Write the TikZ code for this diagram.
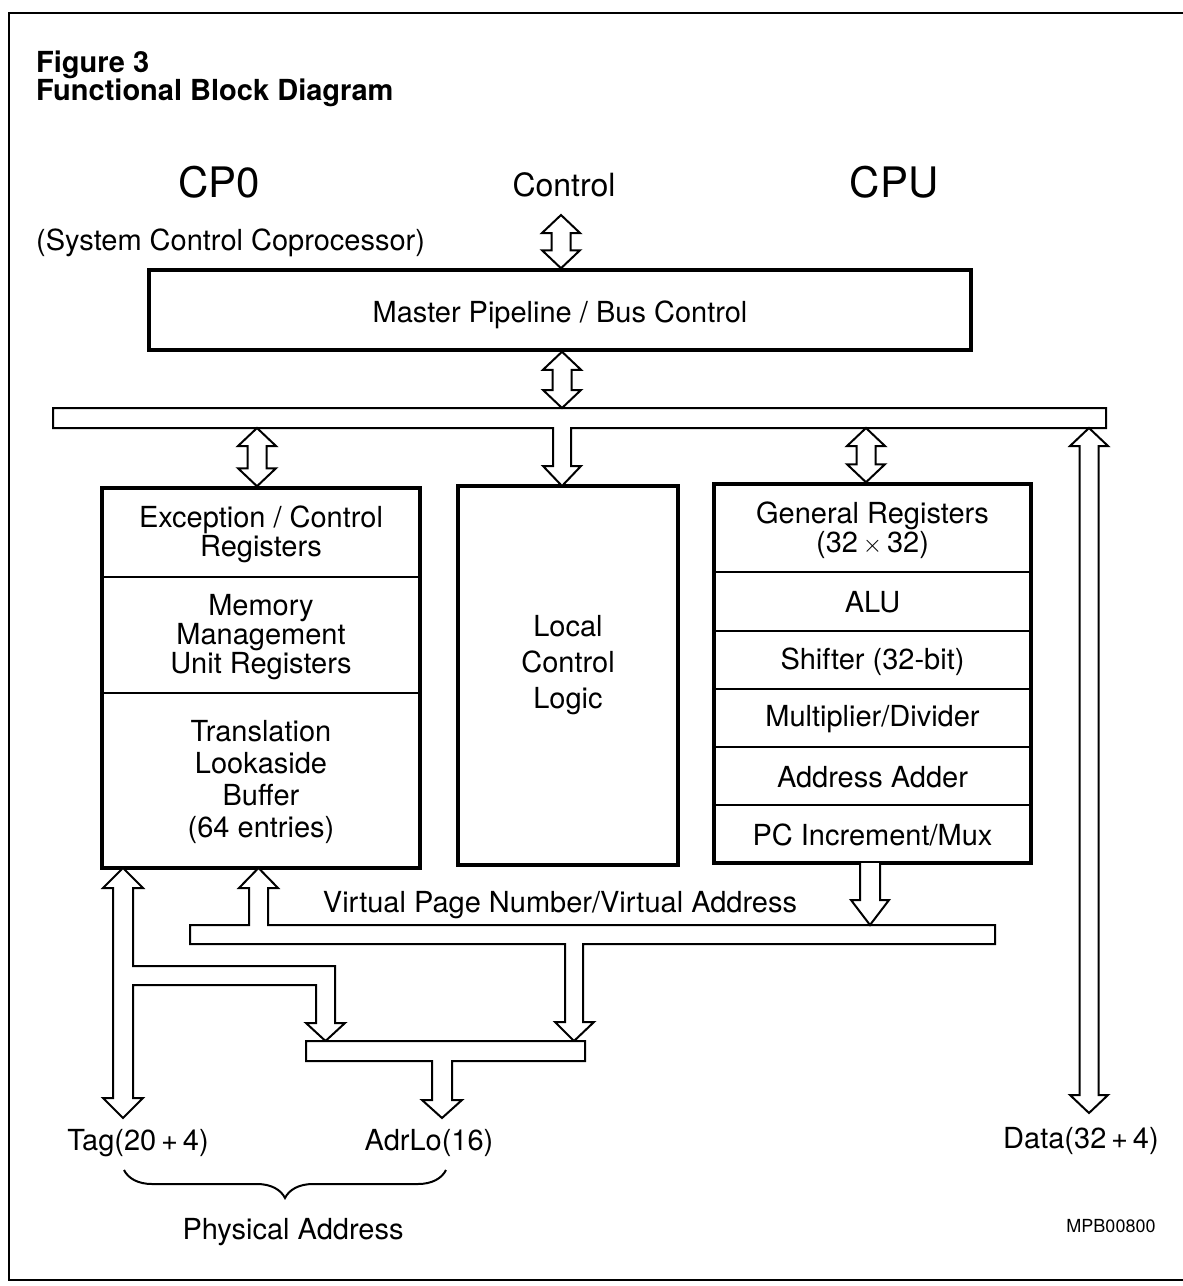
\documentclass[tikz,border=0pt]{standalone}
\usepackage{fontspec}
\setmainfont{TeX Gyre Heros}
\usetikzlibrary{calc,decorations.pathreplacing}
\newcommand\dblarrow[3]{%
  \draw[fat] (#1,0 |- #2) -- ++(19,18) -- ++(-9.5,0) -- ($(#1,0 |- #3)+(9.5,-18)$) -- ++(9.5,0)
    -- (#1,0 |- #3) -- ++(-19,-18) -- ++(9.5,0) -- ($(#1,0 |- #2)+(-9.5,18)$) -- ++(-9.5,0) -- cycle;}
\begin{document}
\begin{tikzpicture}[x=1pt,y=-1pt,
  fat/.style={draw=black, fill=white, line width=2pt, line join=miter},
  bigbox/.style={draw=black, line width=3.5pt, fill=white, inner sep=0pt},
  divider/.style={line width=2pt},
  body/.style={font=\fontsize{29}{29}\selectfont, align=center, inner sep=0pt},
  bold/.style={font=\fontsize{29}{29}\selectfont\bfseries, inner sep=0pt},
  big/.style={font=\fontsize{42}{42}\selectfont, inner sep=0pt},
]
\useasboundingbox (0,0) rectangle (1183,1286);
% frame
\draw[line width=2.2pt] (1183,13) -- (9,13) -- (9,1280) -- (1183,1280);

% titles
\node[bold, anchor=base west] (fig) at (36,72) {Figure 3};
\node[bold, anchor=base west] (title) at (36,100) {Functional Block Diagram};
\node[big, anchor=base] (cp0t) at (219,197) {CP0};
\node[body, anchor=base west] (sysc) at (36,250) {(System Control Coprocessor)};
\node[font=\fontsize{32}{32}\selectfont, inner sep=0pt, anchor=base] (ctl) at (564,196) {Control};
\node[big, anchor=base] (cput) at (894,197) {CPU};

% master box
\node[bigbox, minimum width=822pt, minimum height=80pt] (master) at (560,310) {};
\node[body, anchor=base] (mastert) at (560,322) {Master Pipeline / Bus Control};

% boxes
\node[bigbox, minimum width=318pt, minimum height=380pt] (cp0) at (261,678) {};
\node[bigbox, minimum width=220pt, minimum height=379pt] (local) at (568,675.5) {};
\node[bigbox, minimum width=317pt, minimum height=379pt] (cpu) at (872.5,673.5) {};

\draw[divider] (cp0.west |- 0,577) -- (cp0.east |- 0,577);
\draw[divider] (cp0.west |- 0,693) -- (cp0.east |- 0,693);
\foreach \yy in {572,631,689,747,805}
  \draw[divider] (cpu.west |- 0,\yy) -- (cpu.east |- 0,\yy);

\node[body] (exc) at (261,534) {Exception / Control\\Registers};
\node[body] (mmu) at (261,637) {Memory\\Management\\Unit Registers};
\node[body, font=\fontsize{29}{32}\selectfont] (tlb) at (261,782) {Translation\\Lookaside\\Buffer\\(64 entries)};
\node[body, font=\fontsize{29}{36}\selectfont] (lcl) at (568,665) {Local\\Control\\Logic};
\node[body] (gr) at (872.5,530) {General Registers\\(32\,$\times$\,32)};
\node[body] (alu) at (872.5,602) {ALU};
\node[body] (shf) at (872.5,662) {Shifter (32-bit)};
\node[body] (mul) at (872.5,719) {Multiplier/Divider};
\node[body] (adr) at (872.5,777) {Address Adder};
\node[body] (pc) at (872.5,835) {PC Increment/Mux};

% coordinates
\coordinate (busT) at (0,408);
\coordinate (busB) at (0,428);
\coordinate (ctlend) at (0,215);
\coordinate (dataend) at (0,1113);

% main bus with arrow to local control
\draw[fat] (53,408) -- (1106,408) -- (1106,428) -- (571,428) -- (571,466) -- (581,466)
  -- (562,486) -- (543,466) -- (553,466) -- (553,428) -- (53,428) -- cycle;

\dblarrow{561}{ctlend}{master.north}
\dblarrow{562}{master.south}{busT}
\dblarrow{257}{busB}{cp0.north}
\dblarrow{866}{busB}{cpu.north}
\dblarrow{1089}{busB}{dataend}

% Tag arrow with branch
\draw[fat] (123,868) -- (143,888) -- (133,888) -- (133,966) -- (335,966) -- (335,1023) -- (345,1023)
  -- (325.5,1041) -- (306,1023) -- (316,1023) -- (316,985) -- (133,985) -- (133,1098) -- (143,1098)
  -- (123,1118) -- (103,1098) -- (113,1098) -- (113,888) -- (103,888) -- cycle;

% VPN bus
\draw[fat] (190,925) -- (249,925) -- (249,888) -- (239,888) -- (258.5,868) -- (278,888) -- (268,888)
  -- (268,925) -- (995,925) -- (995,944) -- (583,944) -- (583,1022) -- (594,1022) -- (574,1041)
  -- (555,1022) -- (565,1022) -- (565,944) -- (190,944) -- cycle;

% CPU to VPN bus
\draw[fat] (860,863) -- (860,900) -- (851,900) -- (870,925) -- (889,900) -- (880,900) -- (880,863);

% AdrLo bus
\draw[fat] (306,1041) -- (585,1041) -- (585,1061) -- (452,1061) -- (452,1100) -- (462,1100)
  -- (442,1118) -- (422,1100) -- (432,1100) -- (432,1061) -- (306,1061) -- cycle;

% labels
\node[body, anchor=base] (vpn) at (560,912) {Virtual Page Number/Virtual Address};
\node[body, anchor=base] (tag) at (138,1150) {Tag(20\,+\,4)};
\node[body, anchor=base] (adrlo) at (429,1150) {AdrLo(16)};
\node[body, anchor=base] (data) at (1081,1148) {Data(32\,+\,4)};
\draw[line width=2pt, decorate, decoration={brace, mirror, amplitude=28pt, aspect=0.5}] (124,1170) -- (446,1170);
\node[body, anchor=base] (phys) at (293,1239) {Physical Address};
\node[font=\fontsize{18}{18}\selectfont, inner sep=0pt, anchor=base] (mpb) at (1111,1232) {MPB00800};
\end{tikzpicture}
\end{document}
